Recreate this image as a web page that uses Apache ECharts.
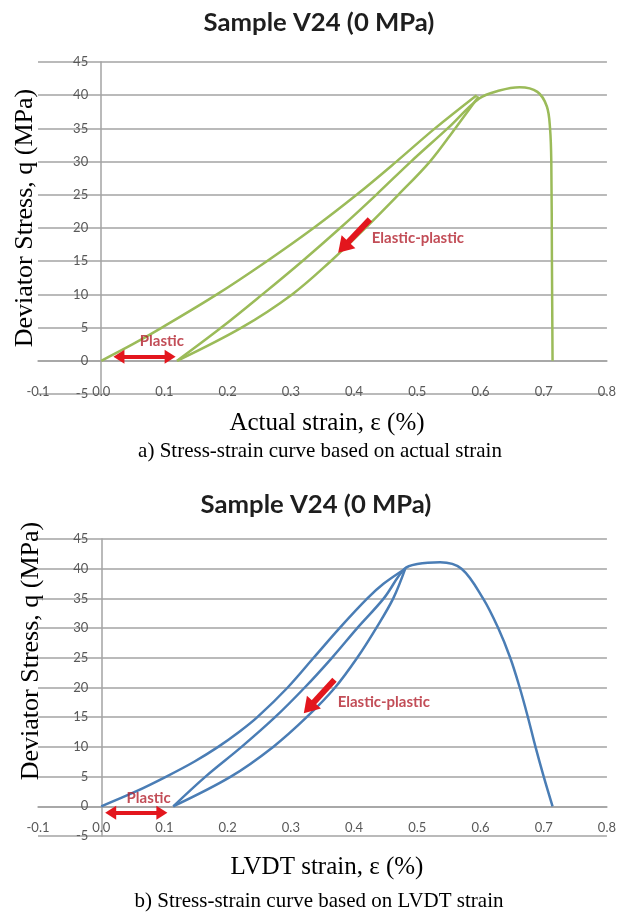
<!DOCTYPE html>
<html><head><meta charset="utf-8">
<script src="https://cdn.jsdelivr.net/npm/echarts@6/dist/echarts.min.js"></script>
<style>html,body{margin:0;padding:0;background:#fff}#c{width:619px;height:913px}</style>
</head><body><div id="c"></div>
<script>
// ---------- tick labels ----------
const xTickLabels = ['-0.1','0.0','0.1','0.2','0.3','0.4','0.5','0.6','0.7','0.8'];
const yTickLabels = ['-5','0','5','10','15','20','25','30','35','40','45'];

// ---------- (a) actual strain ----------
const aLoadX   = [0, 0.05, 0.096, 0.183, 0.262, 0.336, 0.404, 0.467, 0.528, 0.594];
const aLoadY   = [0, 2.5, 5, 10, 15, 20, 25, 30, 35, 40];
const aUnloadX = [0.597, 0.56, 0.52, 0.47, 0.418, 0.363, 0.302, 0.222, 0.12];
const aUnloadY = [39.8, 35, 30, 25, 20, 15, 10, 5, 0];
const aReloadX = [0.12, 0.19, 0.255, 0.318, 0.378, 0.435, 0.49, 0.548, 0.598, 0.63, 0.662, 0.69, 0.705, 0.71, 0.712, 0.713, 0.714];
const aReloadY = [0, 5, 10, 15, 20, 25, 30, 35, 39.5, 40.7, 41.2, 40.5, 38.3, 35, 30, 15, 0];

// ---------- (b) LVDT strain ----------
const bLoadX   = [0, 0.055, 0.103, 0.147, 0.185, 0.218, 0.247, 0.295, 0.336, 0.377, 0.421, 0.447, 0.481];
const bLoadY   = [0, 2.5, 5, 7.5, 10, 12.5, 15, 20, 25, 30, 35, 37.5, 40];
const bUnloadX = [0.481, 0.462, 0.435, 0.405, 0.37, 0.325, 0.272, 0.205, 0.114];
const bUnloadY = [40, 35, 30, 25, 20, 15, 10, 5, 0];
const bReloadX = [0.114, 0.165, 0.222, 0.275, 0.322, 0.365, 0.405, 0.447, 0.48, 0.50, 0.536, 0.57, 0.604, 0.628, 0.647, 0.662, 0.675, 0.687, 0.70, 0.714];
const bReloadY = [0, 5, 10, 15, 20, 25, 30, 35, 40, 40.8, 41.1, 40, 35, 30, 25, 20, 15, 10, 5, 0];

// ---------- annotations (data coordinates) ----------
const aPlasticText = [0.096, 3.0];
const aPlasticArrow = [[0.028, 0.6], [0.109, 0.6]];
const aElasticText = [0.501, 18.5];
const aElasticArrow = [[0.425, 21.3], [0.383, 17.1]];
const bPlasticText = [0.075, 1.3];
const bPlasticArrow = [[0.015, -1.1], [0.096, -1.1]];
const bElasticText = [0.447, 17.6];
const bElasticArrow = [[0.369, 21.3], [0.3285, 16.6]];

const GREEN = '#9bbb59', BLUE = '#4a7db5', RED = '#e3161d', TXTRED = '#b3202d';
const GRID = '#a3a3a3', LBL = '#595959';

function pairs(xs, ys){ return xs.map((x,i)=>[x, ys[i]]); }
function curve(idx, xs, ys, color){
  return {type:'line', xAxisIndex:idx, yAxisIndex:idx, data:pairs(xs,ys), smooth:0.35,
    showSymbol:false, silent:true, lineStyle:{color:color, width:2.5}, z:3};
}
function note(idx, pos, text, arrow, twoHeads){
  const hs = twoHeads ? [14,11] : [19,15];
  return {type:'scatter', xAxisIndex:idx, yAxisIndex:idx, silent:true, symbol:'circle', symbolSize:1,
    itemStyle:{color:'rgba(0,0,0,0)'}, z:5,
    data:[{value:pos, name:text}],
    label:{show:true, position:'inside', formatter:'{b}', color:TXTRED, fontSize:15, fontWeight:'bold', fontFamily:'Lato'},
    markLine:{silent:true, animation:false, symbol: twoHeads ? ['triangle','triangle'] : ['none','triangle'],
      symbolSize:hs, label:{show:false}, emphasis:{disabled:true},
      lineStyle:{color:RED, width: twoHeads ? 4 : 6, type:'solid'},
      data:[[{coord:arrow[0]},{coord:arrow[1]}]]}
  };
}
function xAx(idx, offset, margin){
  return {type:'value', gridIndex:idx, min:-0.1, max:0.8, interval:0.1, position:'bottom', offset:offset,
    axisLine:{show:true, onZero:false, lineStyle:{color:GRID, width:1.5}},
    axisTick:{show:false}, splitLine:{show:false},
    axisLabel:{margin:margin, color:LBL, fontSize:13, fontFamily:'Lato', formatter:(v,i)=>xTickLabels[i]}};
}
function yAx(idx, offset){
  return {type:'value', gridIndex:idx, min:-5, max:45, interval:5, position:'left', offset:offset,
    axisLine:{show:true, onZero:false, lineStyle:{color:GRID, width:1.5}},
    axisTick:{show:false},
    splitLine:{show:true, lineStyle:{color:GRID, width:1.5}},
    axisLabel:{margin:13, color:LBL, fontSize:13, fontFamily:'Lato', formatter:(v,i)=>yTickLabels[i]}};
}
function txt(x, y, text, font, color, rot, sx){
  return {type:'text', x:x, y:y, rotation:rot||0, scaleX:sx||1, silent:true,
    style:{text:text, font:font, fill:color, textAlign:'center', textVerticalAlign:'middle', align:'center', verticalAlign:'middle'}};
}

const chart = echarts.init(document.getElementById('c'), null, {renderer:'canvas'});
chart.setOption({
  animation:false,
  backgroundColor:'#ffffff',
  grid:[
    {left:38, top:62, width:569, height:332},
    {left:38, top:539, width:570, height:297}
  ],
  xAxis:[xAx(0,-33.2,25), xAx(1,-29.7,15)],
  yAxis:[yAx(0,-63.2), yAx(1,-63.3)],
  series:[
    curve(0, aLoadX, aLoadY, GREEN),
    curve(0, aUnloadX, aUnloadY, GREEN),
    curve(0, aReloadX, aReloadY, GREEN),
    curve(1, bLoadX, bLoadY, BLUE),
    curve(1, bUnloadX, bUnloadY, BLUE),
    curve(1, bReloadX, bReloadY, BLUE),
    note(0, aPlasticText, 'Plastic', aPlasticArrow, true),
    note(0, aElasticText, 'Elastic-plastic', aElasticArrow, false),
    note(1, bPlasticText, 'Plastic', bPlasticArrow, true),
    note(1, bElasticText, 'Elastic-plastic', bElasticArrow, false)
  ],
  graphic:[
    txt(319, 23, 'Sample V24 (0 MPa)', 'bold 24px Lato', '#1e1e1e', 0, 1.07),
    txt(316, 505, 'Sample V24 (0 MPa)', 'bold 24px Lato', '#1e1e1e', 0, 1.07),
    txt(25, 218, 'Deviator Stress, q (MPa)', '26px "Liberation Serif"', '#000', Math.PI/2),
    txt(31, 651, 'Deviator Stress, q (MPa)', '26px "Liberation Serif"', '#000', Math.PI/2),
    txt(327, 423, 'Actual strain, ε (%)', '25px "Liberation Serif"', '#000'),
    txt(327, 867, 'LVDT strain, ε (%)', '25px "Liberation Serif"', '#000'),
    txt(320, 451, 'a) Stress-strain curve based on actual strain', '21px "Liberation Serif"', '#000'),
    txt(319, 901, 'b) Stress-strain curve based on LVDT strain', '21px "Liberation Serif"', '#000')
  ]
});
</script></body></html>
